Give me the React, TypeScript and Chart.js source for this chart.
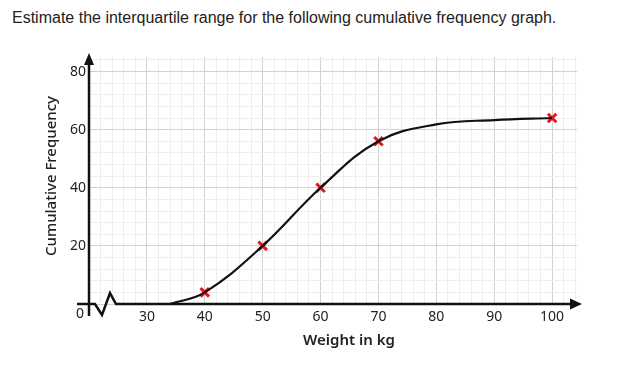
import React, { useEffect, useRef } from "react";
import { Chart, registerables } from "chart.js";

Chart.register(...registerables);

const titleText = "Estimate the interquartile range for the following cumulative frequency graph.";
const xAxisTitle = "Weight in kg";
const yAxisTitle = "Cumulative Frequency";

// plotted crosses
const crossWeights = [40, 50, 60, 70, 100];
const crossFrequencies = [4, 20, 40, 56, 64];

// curve
const curveWeights = [34, 40, 50, 60, 70, 80, 90, 100];
const curveFrequencies = [0, 4, 20, 40, 56, 61.8, 63.3, 64];

const xTickLabels = [30, 40, 50, 60, 70, 80, 90, 100];
const yTickLabels = [20, 40, 60, 80];
const originLabel = "0";

const X_MIN = 20;
const X_MAX = 104.3;
const Y_MIN = 0;
const Y_MAX = 85;
const X_MINOR = 2;
const Y_MINOR = 4;

const MAJOR = "#d2d2d2";
const MINOR = "#eeeeee";
const INK = "#111111";
const TEXT = "#222222";
const RED = "#e8151c";
const FONT = "'Noto Sans', 'DejaVu Sans', sans-serif";

const axesPlugin = {
  id: "axesDecor",
  beforeDatasetsDraw(chart: any) {
    const ctx = chart.ctx;
    const xs = chart.scales.x;
    const ys = chart.scales.y;
    const ox = xs.getPixelForValue(X_MIN);
    const oy = ys.getPixelForValue(0);
    const right = chart.chartArea.right;
    const top = chart.chartArea.top;
    ctx.save();
    ctx.strokeStyle = INK;
    ctx.fillStyle = INK;
    ctx.lineWidth = 2.5;
    ctx.lineJoin = "miter";
    // y axis
    ctx.beginPath();
    ctx.moveTo(ox, oy + 12);
    ctx.lineTo(ox, top + 6);
    ctx.stroke();
    ctx.beginPath();
    ctx.moveTo(ox, top - 4);
    ctx.lineTo(ox - 5, top + 8);
    ctx.lineTo(ox + 5, top + 8);
    ctx.closePath();
    ctx.fill();
    // x axis with break
    ctx.beginPath();
    ctx.moveTo(ox - 12, oy);
    ctx.lineTo(ox + 6, oy);
    ctx.lineTo(ox + 13, oy + 11);
    ctx.lineTo(ox + 21, oy - 11);
    ctx.lineTo(ox + 27, oy);
    ctx.lineTo(right - 6, oy);
    ctx.stroke();
    ctx.beginPath();
    ctx.moveTo(right + 5, oy);
    ctx.lineTo(right - 7, oy - 5.5);
    ctx.lineTo(right - 7, oy + 5.5);
    ctx.closePath();
    ctx.fill();
    ctx.restore();
  },
  afterDraw(chart: any) {
    const ctx = chart.ctx;
    const xs = chart.scales.x;
    const ys = chart.scales.y;
    const ox = xs.getPixelForValue(X_MIN);
    const oy = ys.getPixelForValue(0);
    ctx.save();
    ctx.fillStyle = TEXT;
    ctx.textAlign = "center";
    ctx.textBaseline = "middle";
    ctx.font = `14px ${FONT}`;
    ctx.fillText(originLabel, ox - 9, oy + 10);
    ctx.font = `600 15px ${FONT}`;
    ctx.fillText(xAxisTitle, 349, 341);
    ctx.translate(52, 176);
    ctx.rotate(-Math.PI / 2);
    ctx.font = `500 15px ${FONT}`;
    ctx.fillText(yAxisTitle, 0, 0);
    ctx.restore();
  },
};

export default function App() {
  const ref = useRef<HTMLCanvasElement | null>(null);
  useEffect(() => {
    if (!ref.current) return;
    const chart = new Chart(ref.current, {
      type: "line",
      data: {
        datasets: [
          {
            label: "curve",
            data: curveWeights.map((x, i) => ({ x, y: curveFrequencies[i] })),
            borderColor: INK,
            borderWidth: 2.2,
            pointRadius: 0,
            tension: 0.4,
            fill: false,
          },
          {
            label: "points",
            data: crossWeights.map((x, i) => ({ x, y: crossFrequencies[i] })),
            showLine: false,
            pointStyle: "crossRot",
            pointRadius: 6,
            pointBorderWidth: 3,
            pointBorderColor: RED,
            borderColor: RED,
          },
        ],
      } as any,
      options: {
        animation: false,
        responsive: false,
        devicePixelRatio: 1,
        layout: { padding: { top: 57, right: 40, left: 0, bottom: 0 } },
        plugins: { legend: { display: false }, tooltip: { enabled: false }, title: { display: false } },
        scales: {
          x: {
            type: "linear",
            min: X_MIN,
            max: X_MAX,
            afterBuildTicks: (s: any) => {
              const t = [];
              for (let v = X_MIN; v <= X_MAX; v += X_MINOR) t.push({ value: v });
              s.ticks = t;
            },
            afterFit: (s: any) => {
              s.height = 63;
            },
            grid: {
              drawTicks: false,
              color: (c: any) => (c.tick && c.tick.value % 10 === 0 ? MAJOR : MINOR),
              lineWidth: 1,
            },
            border: { display: false },
            ticks: {
              autoSkip: false,
              maxRotation: 0,
              padding: 5,
              color: TEXT,
              font: { family: FONT, size: 14 },
              callback: (v: any) => (xTickLabels.includes(Number(v)) ? String(v) : ""),
            },
          },
          y: {
            type: "linear",
            min: Y_MIN,
            max: Y_MAX,
            afterBuildTicks: (s: any) => {
              const t = [];
              for (let v = Y_MIN; v <= Y_MAX; v += Y_MINOR) t.push({ value: v });
              s.ticks = t;
            },
            afterFit: (s: any) => {
              s.width = 89;
            },
            grid: {
              drawTicks: false,
              color: (c: any) => (c.tick && c.tick.value % 20 === 0 ? MAJOR : MINOR),
              lineWidth: 1,
            },
            border: { display: false },
            ticks: {
              autoSkip: false,
              padding: 3,
              color: TEXT,
              font: { family: FONT, size: 14 },
              callback: (v: any) => (yTickLabels.includes(Number(v)) ? String(v) : ""),
            },
          },
        },
      } as any,
      plugins: [axesPlugin],
    });
    return () => chart.destroy();
  }, []);
  return (
    <div style={{ position: "absolute", left: 0, top: 0, width: 617, height: 367, background: "#fff" }}>
      <div
        style={{
          position: "absolute",
          left: 12,
          top: 9,
          fontFamily: "'Liberation Sans', Arial, sans-serif",
          fontSize: 16,
          color: "#222",
          whiteSpace: "nowrap",
        }}
      >
        {titleText}
      </div>
      <canvas ref={ref} width={617} height={367} style={{ position: "absolute", left: 0, top: 0 }} />
    </div>
  );
}
